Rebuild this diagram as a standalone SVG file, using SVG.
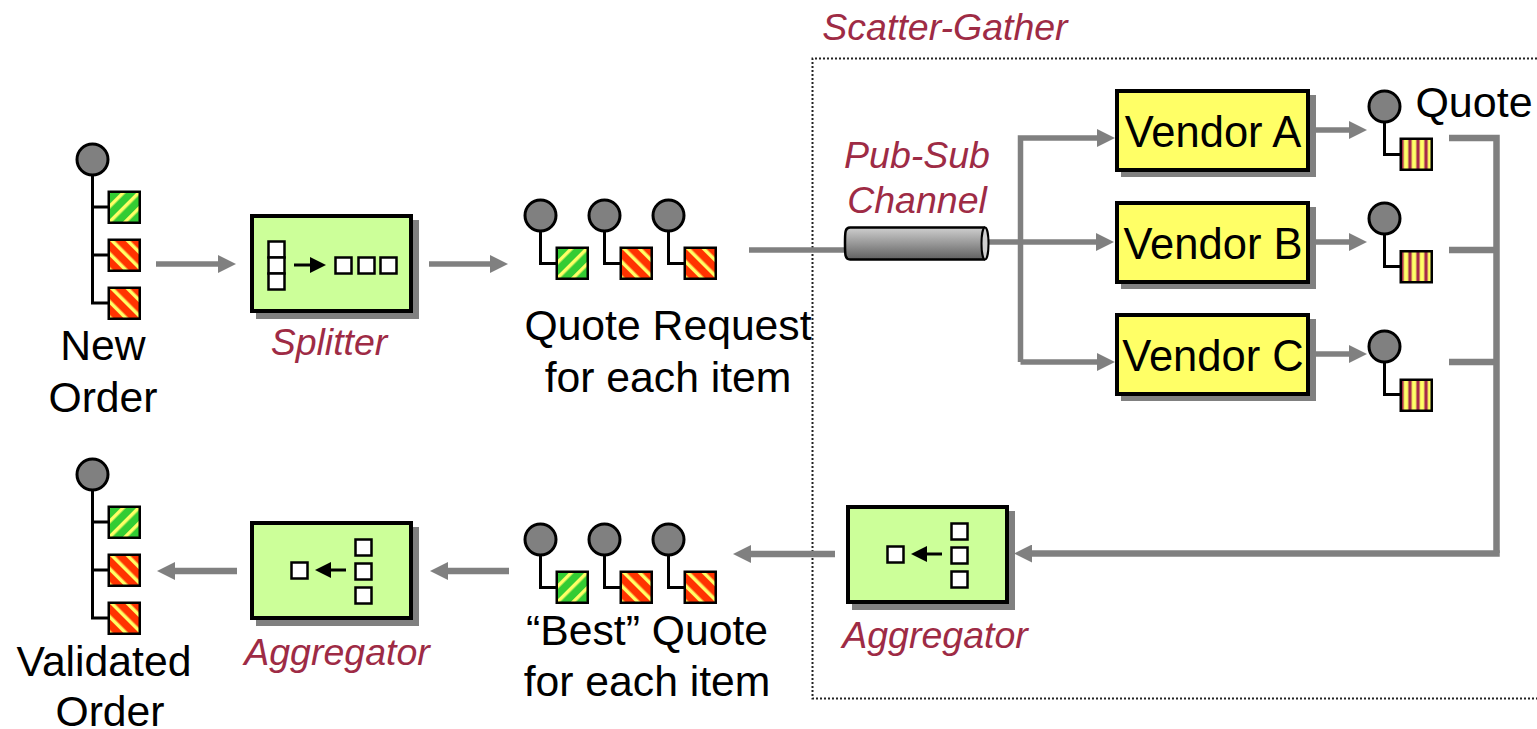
<svg xmlns="http://www.w3.org/2000/svg" width="1537" height="729" viewBox="0 0 1537 729">
<style>
text{font-family:"Liberation Sans",Arial,sans-serif}
.t{font-size:42.700px;fill:#000;text-anchor:middle}
.v{font-size:43.500px;fill:#000;text-anchor:middle}
.l{font-size:37.500px;font-style:italic;fill:#9e2b45;text-anchor:middle}
.c{fill:none;stroke:#808080;stroke-width:5.500}
.k{stroke-width:6.500}
.a{marker-end:url(#ah)}
.b{fill:#808080;stroke:#000;stroke-width:3}
.w{fill:none;stroke:#000;stroke-width:3}
.s{stroke:#000;stroke-width:2.500}
.f{stroke:#000;stroke-width:2.500;fill:#fff}
.g{stroke:#000;stroke-width:4;fill:#ccff99}
.y{stroke:#000;stroke-width:4;fill:#ffff66}
.d{fill:#808080}
</style>
<defs>
<marker id="ah" markerUnits="userSpaceOnUse" viewBox="0 0 18 18" markerWidth="18" markerHeight="18" refX="8" refY="9" orient="auto"><path d="M0 0L18 9L0 18z" fill="#808080"/></marker>
<marker id="bh" markerUnits="userSpaceOnUse" viewBox="0 0 16 16" markerWidth="16" markerHeight="16" refX="8" refY="8" orient="auto"><path d="M0 0L16 8L0 16z" fill="#000"/></marker>
<pattern id="pg" patternUnits="userSpaceOnUse" width="11" height="11" patternTransform="rotate(45)"><rect width="11" height="11" fill="#33cc33"/><rect width="3.500" height="11" fill="#ffff66"/></pattern>
<pattern id="pr" patternUnits="userSpaceOnUse" width="11" height="11" patternTransform="rotate(-45)"><rect width="11" height="11" fill="#ff3300"/><rect width="3.500" height="11" fill="#ffff66"/></pattern>
<pattern id="pq" patternUnits="userSpaceOnUse" width="8" height="8"><rect width="8" height="8" fill="#ffff66"/><rect x="0.800" width="3.400" height="8" fill="#a52a4a"/></pattern>
<linearGradient id="cy" x1="0" y1="0" x2="0" y2="1"><stop offset="0" stop-color="#cfcfcf"/><stop offset="1" stop-color="#606060"/></linearGradient>
<g id="sg"><rect x="1.250" y="1.250" width="31" height="31" fill="url(#pg)" class="s"/></g>
<g id="sr"><rect x="1.250" y="1.250" width="31" height="31" fill="url(#pr)" class="s"/></g>
<g id="sq"><rect x="1.250" y="1.250" width="31" height="31" fill="url(#pq)" class="s"/></g>
<g id="box"><rect x="6" y="6" width="163" height="99" class="d"/><rect x="2" y="2" width="159" height="95" class="g"/></g>
<g id="vb"><rect x="6" y="6" width="195" height="82" class="d"/><rect x="2" y="2" width="191" height="79" class="y"/></g>
<g id="agg">
<use href="#box"/>
<rect x="105.500" y="18.500" width="16" height="16" class="f"/><rect x="105.500" y="42.500" width="16" height="16" class="f"/><rect x="105.500" y="66.500" width="16" height="16" class="f"/>
<rect x="41.500" y="41.500" width="16" height="16" class="f"/>
<path d="M96 49H73" class="w" marker-end="url(#bh)"/>
</g>
<g id="tree">
<circle cx="16.500" cy="16.500" r="15.500" class="b"/>
<path d="M32 64H16.500M32 112H16.500M32 160H16.500V32" class="w"/>
</g>
<g id="ms"><circle cx="16.500" cy="16.500" r="15.500" class="b"/><path d="M16.500 32V64.500H33" class="w"/></g>
</defs>

<g id="connectors">
<path d="M1537 58.500H812.500V698.500H1537" fill="none" stroke="#222" stroke-width="2" stroke-dasharray="2 2"/>
<path class="c a" d="M156 264H226"/>
<path class="c a" d="M429 264H498"/>
<path class="c" d="M749 250H845"/>
<path class="c" d="M989 242H1020"/>
<path class="c a" d="M1020 242H1104"/>
<path class="c a" d="M1020.500 362V138H1105"/>
<path class="c a" d="M1020.500 362H1105"/>
<path class="c a" d="M1316 130H1357"/>
<path class="c a" d="M1316 242H1357"/>
<path class="c a" d="M1316 354H1357"/>
<path class="c k" d="M1449 138H1496.500V553"/>
<path class="c k" d="M1449 250H1496"/>
<path class="c k" d="M1449 362H1496"/>
<path class="c k a" d="M1499.750 553.500H1024"/>
<path class="c k a" d="M835 554H743"/>
<path class="c k a" d="M509 571H440"/>
<path class="c k a" d="M237 571H167"/>
</g>

<g id="scatter-gather-label"><text class="l" x="945" y="40">Scatter-Gather</text></g>

<g id="new-order">
<use href="#tree" x="76" y="143"/>
<use href="#sg" x="107.500" y="190.500"/><use href="#sr" x="107.500" y="238.500"/><use href="#sr" x="107.500" y="286.500"/>
<text class="t" x="103" y="360">New</text><text class="t" x="103" y="412">Order</text>
</g>

<g id="splitter">
<use href="#box" x="250" y="214"/>
<rect x="268.500" y="241.500" width="16" height="16" class="f"/><rect x="268.500" y="257.500" width="16" height="16" class="f"/><rect x="268.500" y="273.500" width="16" height="16" class="f"/>
<rect x="335.500" y="257.500" width="16" height="16" class="f"/><rect x="358.500" y="257.500" width="16" height="16" class="f"/><rect x="380.500" y="257.500" width="16" height="16" class="f"/>
<path d="M294 265H318" class="w" marker-end="url(#bh)"/>
<text class="l" x="329" y="355">Splitter</text>
</g>

<g id="quote-requests">
<use href="#ms" x="524" y="199"/><use href="#sg" x="555.500" y="246.500"/>
<use href="#ms" x="588" y="199"/><use href="#sr" x="619.500" y="246.500"/>
<use href="#ms" x="652" y="199"/><use href="#sr" x="683.500" y="246.500"/>
<text class="t" x="668" y="340">Quote Request</text><text class="t" x="668" y="392">for each item</text>
</g>

<g id="pub-sub-channel">
<text class="l" x="917" y="168">Pub-Sub</text><text class="l" x="917" y="213">Channel</text>
<path d="M985 227.500H850C845 227.500 845 232 845 243.500C845 255 845 259.500 850 259.500H985" fill="url(#cy)" stroke="#000" stroke-width="2.500"/>
<ellipse cx="985" cy="243.500" rx="3.500" ry="16" fill="#cfcfcf" stroke="#000" stroke-width="2"/>
</g>

<g id="vendor-a"><use href="#vb" x="1115" y="89"/><text class="v" x="1213" y="147">Vendor A</text></g>
<g id="vendor-b"><use href="#vb" x="1115" y="201"/><text class="v" x="1213" y="259">Vendor B</text></g>
<g id="vendor-c"><use href="#vb" x="1115" y="313"/><text class="v" x="1213" y="371">Vendor C</text></g>

<g id="quote-a"><use href="#ms" x="1368" y="90"/><use href="#sq" x="1399.500" y="137.500"/><text x="1474" y="117" style="font-size:43px;text-anchor:middle">Quote</text></g>
<g id="quote-b"><use href="#ms" x="1368" y="202"/><use href="#sq" x="1399.500" y="250"/></g>
<g id="quote-c"><use href="#ms" x="1368" y="330"/><use href="#sq" x="1399.500" y="378.500"/></g>

<g id="aggregator-inner"><use href="#agg" x="846" y="505"/><text class="l" x="935" y="648">Aggregator</text></g>

<g id="best-quotes">
<use href="#ms" x="524" y="523"/><use href="#sg" x="555.500" y="570.500"/>
<use href="#ms" x="588" y="523"/><use href="#sr" x="619.500" y="570.500"/>
<use href="#ms" x="652" y="523"/><use href="#sr" x="683.500" y="570.500"/>
<text class="t" x="647" y="645">“Best” Quote</text><text class="t" x="647" y="696">for each item</text>
</g>

<g id="aggregator-outer"><use href="#agg" x="250" y="521"/><text class="l" x="337" y="665">Aggregator</text></g>

<g id="validated-order">
<use href="#tree" x="76" y="458"/>
<use href="#sg" x="107.500" y="505.500"/><use href="#sr" x="107.500" y="553.500"/><use href="#sr" x="107.500" y="601.500"/>
<text class="t" x="104" y="676">Validated</text><text class="t" x="110" y="726">Order</text>
</g>
</svg>
